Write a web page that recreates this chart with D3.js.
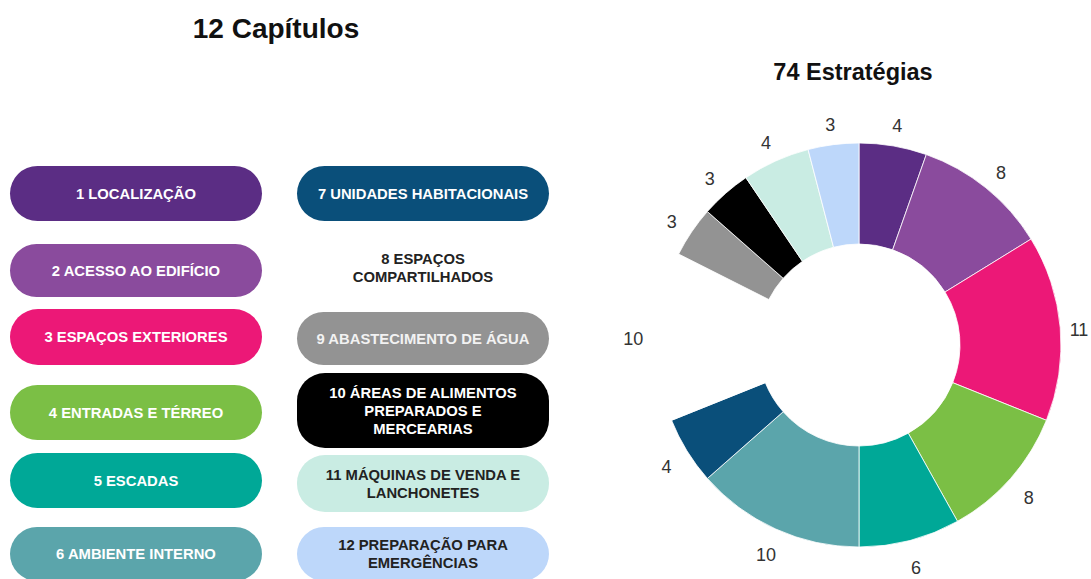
<!DOCTYPE html>
<html>
<head>
<meta charset="utf-8">
<script src="https://cdn.jsdelivr.net/npm/d3@7"></script>
<style>
  html, body { margin: 0; padding: 0; background: #ffffff; }
  svg { display: block; }
  text { font-family: "Liberation Sans", Arial, sans-serif; }
</style>
</head>
<body>
<svg id="chart" width="1091" height="579"></svg>
<script>
// ---- data ----
const chapterTitle = "12 Capítulos";
const donutTitle = "74 Estratégias";
const chapters = [
  "1 LOCALIZAÇÃO",
  "2 ACESSO AO EDIFÍCIO",
  "3 ESPAÇOS EXTERIORES",
  "4 ENTRADAS E TÉRREO",
  "5 ESCADAS",
  "6 AMBIENTE INTERNO",
  "7 UNIDADES HABITACIONAIS",
  "8 ESPAÇOS\nCOMPARTILHADOS",
  "9 ABASTECIMENTO DE ÁGUA",
  "10 ÁREAS DE ALIMENTOS\nPREPARADOS E\nMERCEARIAS",
  "11 MÁQUINAS DE VENDA E\nLANCHONETES",
  "12 PREPARAÇÃO PARA\nEMERGÊNCIAS"
];
const strategies = [4, 8, 11, 8, 6, 10, 4, 10, 3, 3, 4, 3];

// ---- styles ----
const palette = ["#5b2d84", "#8a4b9d", "#ec1877", "#7bbf45", "#00a897", "#5ba5ab",
                 "#0a4f7a", "#ffffff", "#939393", "#000000", "#c9ece3", "#bdd7fa"];
const textColors = ["#fff", "#fff", "#fff", "#fff", "#fff", "#fff",
                    "#fff", "#222", "#f2f2f2", "#fff", "#222", "#222"];

const W = 1091;
const svg = d3.select("#chart");

// ---- titles ----
svg.append("text").attr("x", 276).attr("y", 38).attr("text-anchor", "middle")
  .attr("font-size", 28).attr("font-weight", "bold").attr("fill", "#111").text(chapterTitle);
svg.append("text").attr("x", 853).attr("y", 80).attr("text-anchor", "middle")
  .attr("font-size", 23.5).attr("font-weight", "bold").attr("fill", "#111").text(donutTitle);

// ---- chapter pills (layout) ----
const colX = d3.scaleOrdinal().domain([0, 1]).range([10, 297]);
const pillW = 252;
const pillBoxes = [ // [top, bottom] for each chapter
  [166, 221], [244, 297], [309, 365], [385, 440], [453, 508], [527, 581],
  [166, 221], [240, 296], [312, 365], [373, 448], [455, 512], [527, 581]
];

const pills = svg.append("g").selectAll("g")
  .data(chapters.map((name, i) => ({ name, i })))
  .join("g")
  .attr("transform", d => `translate(${colX(d.i < 6 ? 0 : 1)},${pillBoxes[d.i][0]})`);

pills.append("rect")
  .attr("width", pillW)
  .attr("height", d => pillBoxes[d.i][1] - pillBoxes[d.i][0])
  .attr("rx", d => Math.min(28, (pillBoxes[d.i][1] - pillBoxes[d.i][0]) / 2))
  .attr("fill", d => palette[d.i]);

pills.each(function(d) {
  const h = pillBoxes[d.i][1] - pillBoxes[d.i][0];
  const lines = d.name.split("\n");
  const lh = 18;
  const t = d3.select(this).append("text")
    .attr("text-anchor", "middle")
    .attr("font-size", 14.8)
    .attr("font-weight", "bold")
    .attr("fill", textColors[d.i]);
  lines.forEach((ln, k) => {
    t.append("tspan")
      .attr("x", pillW / 2)
      .attr("y", h / 2 + (k - (lines.length - 1) / 2) * lh)
      .attr("dy", "0.36em")
      .text(ln);
  });
});

// ---- donut ----
const cx = 859, cy = 345;
const rOuter = 202, rInner = 101, rLabel = 226;
const pie = d3.pie().sort(null).value(d => d.v);
const arcs = pie(strategies.map((v, i) => ({ v, i })));
const arc = d3.arc().innerRadius(rInner).outerRadius(rOuter);
const labelArc = d3.arc().innerRadius(rLabel).outerRadius(rLabel);

const donut = svg.append("g").attr("transform", `translate(${cx},${cy})`);
donut.selectAll("path").data(arcs).join("path")
  .attr("d", arc)
  .attr("fill", d => palette[d.data.i])
  .attr("stroke", "#ffffff")
  .attr("stroke-width", 0.8);

donut.selectAll("text.lbl").data(arcs).join("text")
  .attr("class", "lbl")
  .attr("x", d => Math.min(labelArc.centroid(d)[0], W - cx - 12))
  .attr("y", d => labelArc.centroid(d)[1] + 4)
  .attr("text-anchor", "middle")
  .attr("dominant-baseline", "central")
  .attr("font-size", 18)
  .attr("fill", "#333")
  .text(d => d.data.v);
</script>
</body>
</html>
